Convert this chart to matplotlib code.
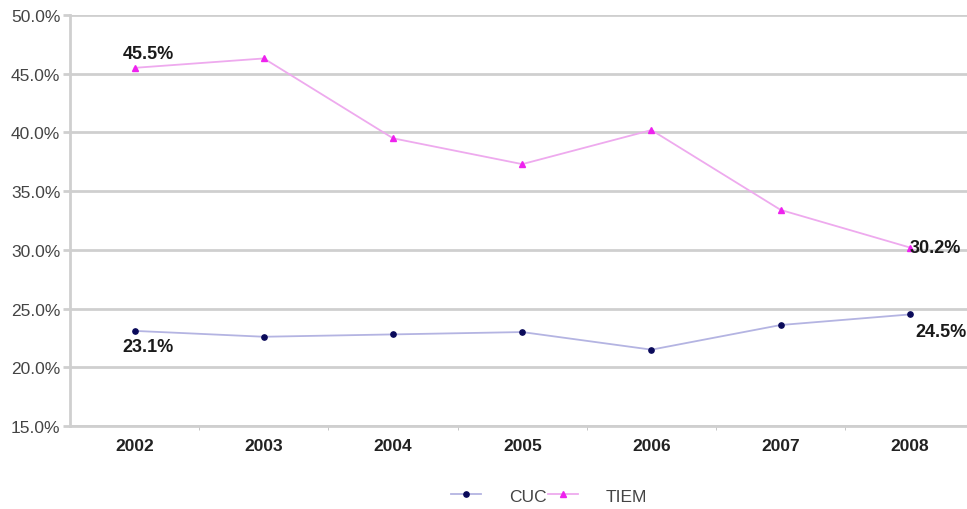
import matplotlib
matplotlib.use("Agg")
import matplotlib.pyplot as plt
from matplotlib.ticker import FuncFormatter, FixedLocator

years = ["2002", "2003", "2004", "2005", "2006", "2007", "2008"]
cuc = [23.1, 22.6, 22.8, 23.0, 21.5, 23.6, 24.5]
tiem = [45.5, 46.3, 39.5, 37.3, 40.2, 33.4, 30.2]
y_ticks = [15, 20, 25, 30, 35, 40, 45, 50]

plt.rcParams["font.family"] = ["Liberation Sans", "DejaVu Sans"]

fig = plt.figure(figsize=(9.67, 5.10), dpi=100)
W, H = 967, 510
ax = fig.add_axes([70 / W, 83 / H, (974.5 - 70) / W, (427 - 16) / H])

x = list(range(len(years)))
ax.plot(x, cuc, color="#b4b4e2", lw=1.3, marker="o", ms=3.8,
        mfc="#0a0a5a", mec="#0a0a5a", label="CUC", zorder=3)
ax.plot(x, tiem, color="#eeaaee", lw=1.3, marker="^", ms=4.2,
        mfc="#ee22ee", mec="#ee22ee", label="TIEM", zorder=3)

ax.set_xlim(-0.5, len(years) - 0.5)
ax.set_ylim(15, 50)
ax.set_yticks(y_ticks)
ax.yaxis.set_major_formatter(FuncFormatter(lambda v, p: f"{v:.1f}%"))
ax.grid(axis="y", color="#cfcfcf", lw=2)
ax.set_axisbelow(True)

ax.set_xticks(x)
ax.set_xticklabels(years, fontweight="bold", fontsize=12.5, color="#222222")
ax.xaxis.set_minor_locator(FixedLocator([i + 0.5 for i in x]))
ax.tick_params(axis="x", which="major", length=0, pad=9)
ax.tick_params(axis="x", which="minor", length=3, color="#bbbbbb")
ax.tick_params(axis="y", length=5, color="#cfcfcf", width=2,
               labelsize=12.5, labelcolor="#444444", pad=2)

for s in ["top", "right"]:
    ax.spines[s].set_visible(False)
ax.spines["left"].set_color("#cfcfcf")
ax.spines["left"].set_linewidth(2)
ax.spines["bottom"].set_color("#cfcfcf")
ax.spines["bottom"].set_linewidth(2)

lab = dict(fontweight="bold", fontsize=13, color="#1a1a1a")
ax.annotate(f"{tiem[0]:.1f}%", (0, tiem[0]), xytext=(10, 4),
            textcoords="offset points", ha="center", va="bottom", **lab)
ax.annotate(f"{cuc[0]:.1f}%", (0, cuc[0]), xytext=(10, -5),
            textcoords="offset points", ha="center", va="top", **lab)
ax.annotate(f"{tiem[-1]:.1f}%", (6, tiem[-1]), xytext=(0, 0),
            textcoords="offset points", ha="left", va="center", **lab)
ax.annotate(f"{cuc[-1]:.1f}%", (6, cuc[-1]), xytext=(4, -6),
            textcoords="offset points", ha="left", va="top", **lab)

fig.legend(loc="center", bbox_to_anchor=(549 / W, 1 - 497 / H), ncol=2,
           frameon=False, fontsize=12.5, handlelength=1.7, handletextpad=1.6,
           columnspacing=0.1, labelcolor="#444444")

fig.savefig("out.png", dpi=100)
